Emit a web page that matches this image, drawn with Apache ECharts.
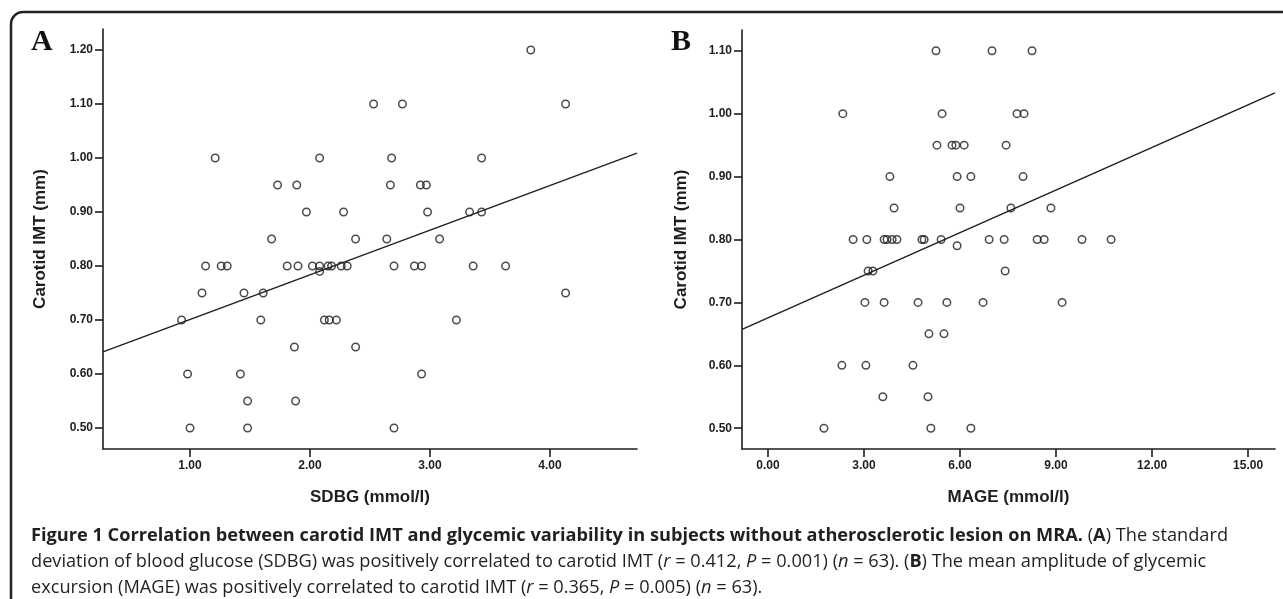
<!DOCTYPE html>
<html>
<head>
<meta charset="utf-8">
<script src="https://cdn.jsdelivr.net/npm/echarts@6/dist/echarts.min.js"></script>
<style>
html,body{margin:0;padding:0;background:#fff;}
#chart{width:1283px;height:599px;}
</style>
</head>
<body>
<div id="chart"></div>
<script>
// Panel A: SDBG (mmol/l) vs carotid IMT (mm)
const sdbgX = [3.84,
  2.53, 2.77, 4.13,
  1.21, 2.08, 2.68, 3.43,
  1.73, 1.89, 2.67, 2.92, 2.97,
  1.97, 2.28, 2.98, 3.33, 3.43,
  1.68, 2.38, 2.64, 3.08,
  1.13, 1.26, 1.31, 1.81, 1.90, 2.02, 2.08, 2.15, 2.18, 2.26, 2.31, 2.70, 2.87, 2.93, 3.36, 3.63,
  2.08,
  1.10, 1.45, 1.61, 4.13,
  0.93, 1.59, 2.12, 2.16, 2.22, 3.22,
  1.87, 2.38,
  0.98, 1.42, 2.93,
  1.48, 1.88,
  1.00, 1.48, 2.70];
const sdbgY = [1.20,
  1.10, 1.10, 1.10,
  1.00, 1.00, 1.00, 1.00,
  0.95, 0.95, 0.95, 0.95, 0.95,
  0.90, 0.90, 0.90, 0.90, 0.90,
  0.85, 0.85, 0.85, 0.85,
  0.80, 0.80, 0.80, 0.80, 0.80, 0.80, 0.80, 0.80, 0.80, 0.80, 0.80, 0.80, 0.80, 0.80, 0.80, 0.80,
  0.79,
  0.75, 0.75, 0.75, 0.75,
  0.70, 0.70, 0.70, 0.70, 0.70, 0.70,
  0.65, 0.65,
  0.60, 0.60, 0.60,
  0.55, 0.55,
  0.50, 0.50, 0.50];
const fitAX = [0.275, 4.725];
const fitAY = [0.641, 1.009];

// Panel B: MAGE (mmol/l) vs carotid IMT (mm)
const mageX = [5.25, 7.00, 8.25,
  2.34, 5.44, 7.78, 8.00,
  5.28, 5.75, 5.87, 6.13, 7.44,
  3.81, 5.91, 6.34, 7.97,
  3.94, 6.00, 7.59, 8.84,
  2.66, 3.09, 3.63, 3.72, 3.88, 4.03, 4.81, 4.88, 5.41, 6.91, 7.38, 8.41, 8.63, 9.81, 10.72,
  5.91,
  3.13, 3.28, 7.41,
  3.03, 3.63, 4.69, 5.59, 6.72, 9.19,
  5.03, 5.50,
  2.31, 3.06, 4.53,
  3.59, 5.00,
  1.75, 5.09, 6.34];
const mageY = [1.10, 1.10, 1.10,
  1.00, 1.00, 1.00, 1.00,
  0.95, 0.95, 0.95, 0.95, 0.95,
  0.90, 0.90, 0.90, 0.90,
  0.85, 0.85, 0.85, 0.85,
  0.80, 0.80, 0.80, 0.80, 0.80, 0.80, 0.80, 0.80, 0.80, 0.80, 0.80, 0.80, 0.80, 0.80, 0.80,
  0.79,
  0.75, 0.75, 0.75,
  0.70, 0.70, 0.70, 0.70, 0.70, 0.70,
  0.65, 0.65,
  0.60, 0.60, 0.60,
  0.55, 0.55,
  0.50, 0.50, 0.50];
const fitBX = [-0.81, 15.84];
const fitBY = [0.657, 1.033];

// Tick values
const xTicksA = [1, 2, 3, 4];
const yTicksA = [0.5, 0.6, 0.7, 0.8, 0.9, 1.0, 1.1, 1.2];
const xTicksB = [0, 3, 6, 9, 12, 15];
const yTicksB = [0.5, 0.6, 0.7, 0.8, 0.9, 1.0, 1.1];

const panelLetters = ['A', 'B'];
const xTitles = ['SDBG (mmol/l)', 'MAGE (mmol/l)'];
const yTitle = 'Carotid IMT (mm)';

const zip = (xs, ys) => xs.map((x, i) => [x, ys[i]]);
const ink = '#1e1e1e';
const fmt = v => Number(v).toFixed(2);
const axFont = 'Liberation Sans, Arial, sans-serif';

function xAxisOf(grid, min, max, ticks, title) {
  return {
    gridIndex: grid, type: 'value', min: min, max: max,
    axisLine: {show: true, onZero: false, lineStyle: {color: ink, width: 1.6}},
    axisTick: {show: true, inside: false, length: 8, customValues: ticks, lineStyle: {color: ink, width: 1.6}},
    axisLabel: {customValues: ticks, formatter: fmt, color: ink, fontWeight: 'bold', fontSize: 12,
      fontFamily: axFont, margin: 11},
    splitLine: {show: false},
    name: title, nameLocation: 'middle', nameGap: 40,
    nameTextStyle: {color: ink, fontWeight: 'bold', fontSize: 17, fontFamily: axFont}
  };
}
function yAxisOf(grid, min, max, ticks, gap) {
  return {
    gridIndex: grid, type: 'value', min: min, max: max,
    axisLine: {show: true, onZero: false, lineStyle: {color: ink, width: 1.6}},
    axisTick: {show: true, inside: false, length: 8, customValues: ticks, lineStyle: {color: ink, width: 1.6}},
    axisLabel: {customValues: ticks, formatter: fmt, color: ink, fontWeight: 'bold', fontSize: 12,
      fontFamily: axFont, margin: 10},
    splitLine: {show: false},
    name: yTitle, nameLocation: 'middle', nameGap: gap, nameRotate: 90,
    nameTextStyle: {color: ink, fontWeight: 'bold', fontSize: 17, fontFamily: axFont}
  };
}
function scatterOf(idx, data) {
  return {
    type: 'scatter', xAxisIndex: idx, yAxisIndex: idx, data: data,
    symbol: 'circle', symbolSize: 7.5, z: 3,
    itemStyle: {color: 'rgba(255,255,255,0)', borderColor: ink, borderWidth: 1.5},
    emphasis: {disabled: true}
  };
}
function fitOf(idx, data) {
  return {
    type: 'line', xAxisIndex: idx, yAxisIndex: idx, data: data,
    showSymbol: false, symbol: 'none', z: 2,
    lineStyle: {color: ink, width: 1.4}
  };
}

const capFont = '"Open Sans", "Noto Sans", sans-serif';
const capColor = '#231f20';
const capSize = 18.2;
const rich = {
  b: {fontWeight: 'bold', fontSize: capSize, fontFamily: capFont, color: capColor},
  n: {fontWeight: 'normal', fontSize: capSize, fontFamily: capFont, color: capColor},
  i: {fontWeight: 'normal', fontStyle: 'italic', fontSize: capSize, fontFamily: capFont, color: capColor}
};
const capLines = [
  '{b|Figure 1 Correlation between carotid IMT and glycemic variability in subjects without atherosclerotic lesion on MRA.}{n| (}{b|A}{n|) The standard}',
  '{n|deviation of blood glucose (SDBG) was positively correlated to carotid IMT (}{i|r}{n| = 0.412, }{i|P}{n| = 0.001) (}{i|n}{n| = 63). (}{b|B}{n|) The mean amplitude of glycemic}',
  '{n|excursion (MAGE) was positively correlated to carotid IMT (}{i|r}{n| = 0.365, }{i|P}{n| = 0.005) (}{i|n}{n| = 63).}'
];
const capY = [536, 562, 588];

const graphics = [
  {type: 'rect', z: 0, silent: true,
    shape: {x: 11, y: 12, width: 1300, height: 620, r: 12},
    style: {fill: 'none', stroke: '#222', lineWidth: 2.5}},
  {type: 'text', silent: true, x: 31, y: 42,
    style: {text: panelLetters[0], font: 'bold 30px "Liberation Serif", "Times New Roman", serif', fill: '#111', verticalAlign: 'middle'}},
  {type: 'text', silent: true, x: 671, y: 42,
    style: {text: panelLetters[1], font: 'bold 30px "Liberation Serif", "Times New Roman", serif', fill: '#111', verticalAlign: 'middle'}}
];
capLines.forEach((t, k) => {
  graphics.push({type: 'text', silent: true, x: 31, y: capY[k],
    style: {text: t, rich: rich, verticalAlign: 'middle', fontSize: capSize, fontFamily: capFont, fill: capColor}});
});

const chart = echarts.init(document.getElementById('chart'), null, {renderer: 'canvas'});
chart.setOption({
  animation: false,
  backgroundColor: '#fff',
  grid: [
    {left: 103, top: 29, width: 534, height: 420},
    {left: 742, top: 30, width: 533, height: 419}
  ],
  xAxis: [
    xAxisOf(0, 0.275, 4.725, xTicksA, xTitles[0]),
    xAxisOf(1, -0.81, 15.84, xTicksB, xTitles[1])
  ],
  yAxis: [
    yAxisOf(0, 0.461, 1.239, yTicksA, 54),
    yAxisOf(1, 0.467, 1.133, yTicksB, 52)
  ],
  series: [
    fitOf(0, zip(fitAX, fitAY)),
    scatterOf(0, zip(sdbgX, sdbgY)),
    fitOf(1, zip(fitBX, fitBY)),
    scatterOf(1, zip(mageX, mageY))
  ],
  graphic: graphics
});
</script>
</body>
</html>
